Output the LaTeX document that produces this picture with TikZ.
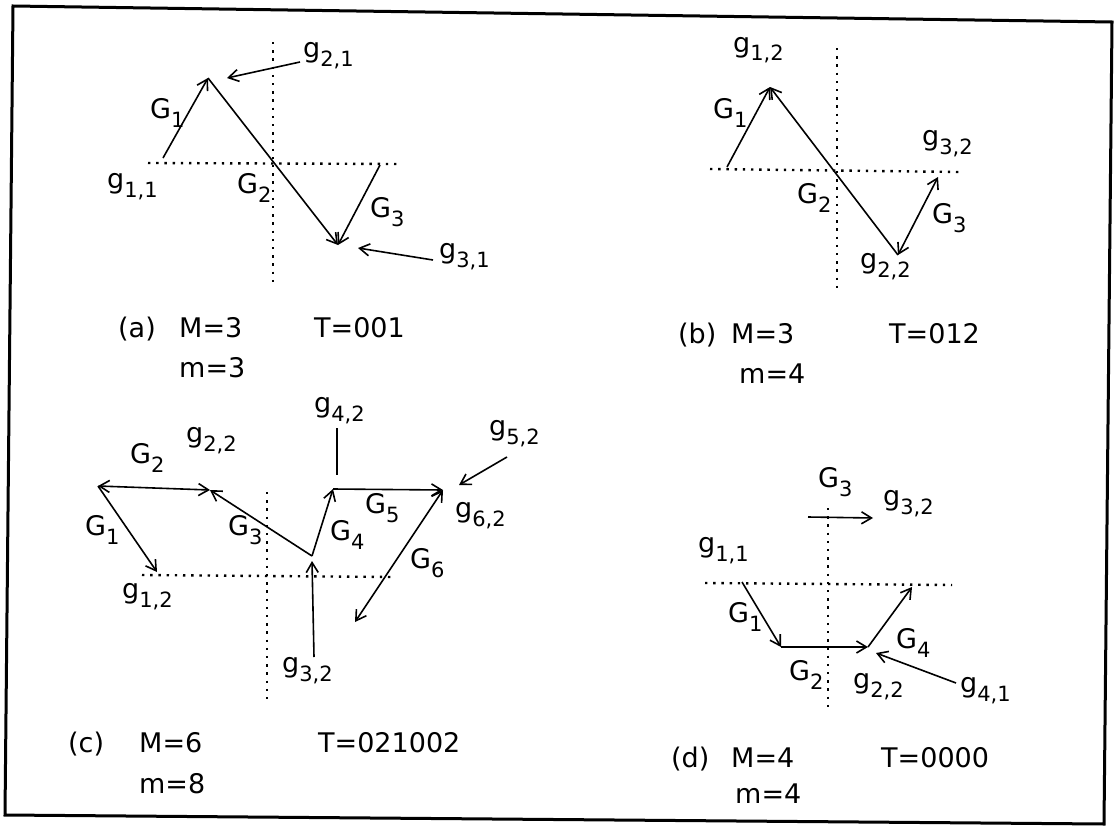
\documentclass[tikz,border=0pt]{standalone}
\usepackage{fontspec}
\setmainfont{DejaVu Sans}
\usetikzlibrary{arrows.meta}
\newcommand\lbl[2]{#1\raisebox{-9pt}{\fontsize{21}{21}\selectfont #2}}
\begin{document}
\begin{tikzpicture}[x=1pt,y=-1pt,
  vec/.style={line width=1.6pt,-{Straight Barb[length=10pt,width=12pt]}},
  dvec/.style={line width=1.6pt,{Straight Barb[length=10pt,width=12pt]}-{Straight Barb[length=10pt,width=12pt]}},
  plain/.style={line width=1.6pt},
  axis/.style={line width=2.4pt,dash pattern=on 2.4pt off 5.8pt},
  txt/.style={anchor=base west,inner sep=0pt,font=\fontsize{27}{30}\selectfont},
  frame/.style={line width=3pt}]
\useasboundingbox (0,0) rectangle (1119,827);
\fill[white] (0,0) rectangle (1119,827);
% frame
\coordinate (f1) at (13,6); \coordinate (f2) at (1112,22);
\coordinate (f3) at (1104,824); \coordinate (f4) at (5,815);
\draw[frame] (f1) -- (f2) -- (f3) -- (f4) -- cycle;

% ---------------- panel (a)
\coordinate (a-vt) at (273,42); \coordinate (a-vb) at (273,283);
\coordinate (a-hl) at (148,163); \coordinate (a-hr) at (398,164);
\draw[axis] (a-vt) -- (a-vb);
\draw[axis] (a-hl) -- (a-hr);
\coordinate (a-o1) at (163,158); \coordinate (a-p) at (208,78);
\coordinate (a-v) at (338,245); \coordinate (a-o3) at (380,165);
\coordinate (a-t21) at (300,62); \coordinate (a-h21) at (227,78);
\coordinate (a-t31) at (433,260); \coordinate (a-h31) at (358,248);
\draw[vec] (a-o1) -- (a-p);
\draw[vec] (a-p) -- (a-v);
\draw[vec] (a-o3) -- (a-v);
\draw[vec] (a-t21) -- (a-h21);
\draw[vec] (a-t31) -- (a-h31);
\node[txt] (a-G1) at (150,118) {\lbl{G}{1}};
\node[txt] (a-G2) at (237,193) {\lbl{G}{2}};
\node[txt] (a-G3) at (370,217) {\lbl{G}{3}};
\node[txt] (a-g21) at (303,57) {\lbl{g}{2,1}};
\node[txt] (a-g11) at (107,188) {\lbl{g}{1,1}};
\node[txt] (a-g31) at (439,258) {\lbl{g}{3,1}};
\node[txt] (a-cap) at (118,337) {(a)};
\node[txt] (a-M) at (179,337) {M=3};
\node[txt] (a-T) at (314,337) {T=001};
\node[txt] (a-m) at (179,377) {m=3};

% ---------------- panel (b)
\coordinate (b-vt) at (837,48); \coordinate (b-vb) at (837,290);
\coordinate (b-hl) at (710,169); \coordinate (b-hr) at (960,172);
\draw[axis] (b-vt) -- (b-vb);
\draw[axis] (b-hl) -- (b-hr);
\coordinate (b-o1) at (727,167); \coordinate (b-p) at (770,87);
\coordinate (b-v) at (898,255); \coordinate (b-t3) at (938,177);
\draw[vec] (b-o1) -- (b-p);
\draw[vec] (b-v) -- (b-p);
\draw[dvec] (b-v) -- (b-t3);
\node[txt] (b-G1) at (713,118) {\lbl{G}{1}};
\node[txt] (b-G2) at (797,203) {\lbl{G}{2}};
\node[txt] (b-G3) at (932,223) {\lbl{G}{3}};
\node[txt] (b-g12) at (733,52) {\lbl{g}{1,2}};
\node[txt] (b-g32) at (922,145) {\lbl{g}{3,2}};
\node[txt] (b-g22) at (860,268) {\lbl{g}{2,2}};
\node[txt] (b-cap) at (678,343) {(b)};
\node[txt] (b-M) at (731,343) {M=3};
\node[txt] (b-T) at (889,343) {T=012};
\node[txt] (b-m) at (739,383) {m=4};

% ---------------- panel (c)
\coordinate (c-vt) at (267,492); \coordinate (c-vb) at (267,700);
\coordinate (c-hl) at (142,575); \coordinate (c-hr) at (392,577);
\draw[axis] (c-vt) -- (c-vb);
\draw[axis] (c-hl) -- (c-hr);
\coordinate (c-A) at (98,486); \coordinate (c-B) at (157,572);
\coordinate (c-P22) at (210,490); \coordinate (c-V) at (312,556);
\coordinate (c-P4) at (333,489); \coordinate (c-P62) at (443,490);
\coordinate (c-E6) at (355,622);
\coordinate (c-k1) at (337,428); \coordinate (c-k2) at (337,475);
\coordinate (c-t52) at (507,457); \coordinate (c-h52) at (459,485);
\coordinate (c-t32) at (314,657); \coordinate (c-h32) at (312,561);
\draw[vec] (c-A) -- (c-B);
\draw[dvec] (c-A) -- (c-P22);
\draw[vec] (c-V) -- (c-P22);
\draw[vec] (c-V) -- (c-P4);
\draw[vec] (c-P4) -- (c-P62);
\draw[dvec] (c-P62) -- (c-E6);
\draw[plain] (c-k1) -- (c-k2);
\draw[vec] (c-t52) -- (c-h52);
\draw[vec] (c-t32) -- (c-h32);
\node[txt] (c-G1) at (85,535) {\lbl{G}{1}};
\node[txt] (c-G2) at (130,463) {\lbl{G}{2}};
\node[txt] (c-G3) at (228,535) {\lbl{G}{3}};
\node[txt] (c-G4) at (330,540) {\lbl{G}{4}};
\node[txt] (c-G5) at (365,513) {\lbl{G}{5}};
\node[txt] (c-G6) at (410,568) {\lbl{G}{6}};
\node[txt] (c-g22) at (186,442) {\lbl{g}{2,2}};
\node[txt] (c-g12) at (122,598) {\lbl{g}{1,2}};
\node[txt] (c-g62) at (455,517) {\lbl{g}{6,2}};
\node[txt] (c-g42) at (314,412) {\lbl{g}{4,2}};
\node[txt] (c-g52) at (489,435) {\lbl{g}{5,2}};
\node[txt] (c-g32) at (282,672) {\lbl{g}{3,2}};
\node[txt] (c-cap) at (68,752) {(c)};
\node[txt] (c-M) at (139,752) {M=6};
\node[txt] (c-T) at (318,752) {T=021002};
\node[txt] (c-m) at (139,793) {m=8};

% ---------------- panel (d)
\coordinate (d-vt) at (828,508); \coordinate (d-vb) at (828,708);
\coordinate (d-hl) at (705,583); \coordinate (d-hr) at (952,585);
\draw[axis] (d-vt) -- (d-vb);
\draw[axis] (d-hl) -- (d-hr);
\coordinate (d-S1) at (742,582); \coordinate (d-P2) at (781,647);
\coordinate (d-P22) at (868,647); \coordinate (d-P4) at (912,587);
\coordinate (d-t3) at (808,517); \coordinate (d-h3) at (873,518);
\coordinate (d-t41) at (956,683); \coordinate (d-h41) at (876,653);
\draw[vec] (d-S1) -- (d-P2);
\draw[vec] (d-P2) -- (d-P22);
\draw[vec] (d-P22) -- (d-P4);
\draw[vec] (d-t3) -- (d-h3);
\draw[vec] (d-t41) -- (d-h41);
\node[txt] (d-G1) at (728,622) {\lbl{G}{1}};
\node[txt] (d-G2) at (789,680) {\lbl{G}{2}};
\node[txt] (d-G3) at (818,487) {\lbl{G}{3}};
\node[txt] (d-G4) at (896,648) {\lbl{G}{4}};
\node[txt] (d-g11) at (698,552) {\lbl{g}{1,1}};
\node[txt] (d-g32) at (883,505) {\lbl{g}{3,2}};
\node[txt] (d-g22) at (853,688) {\lbl{g}{2,2}};
\node[txt] (d-g41) at (960,692) {\lbl{g}{4,1}};
\node[txt] (d-cap) at (671,767) {(d)};
\node[txt] (d-M) at (731,767) {M=4};
\node[txt] (d-T) at (881,767) {T=0000};
\node[txt] (d-m) at (735,803) {m=4};
\end{tikzpicture}
\end{document}
